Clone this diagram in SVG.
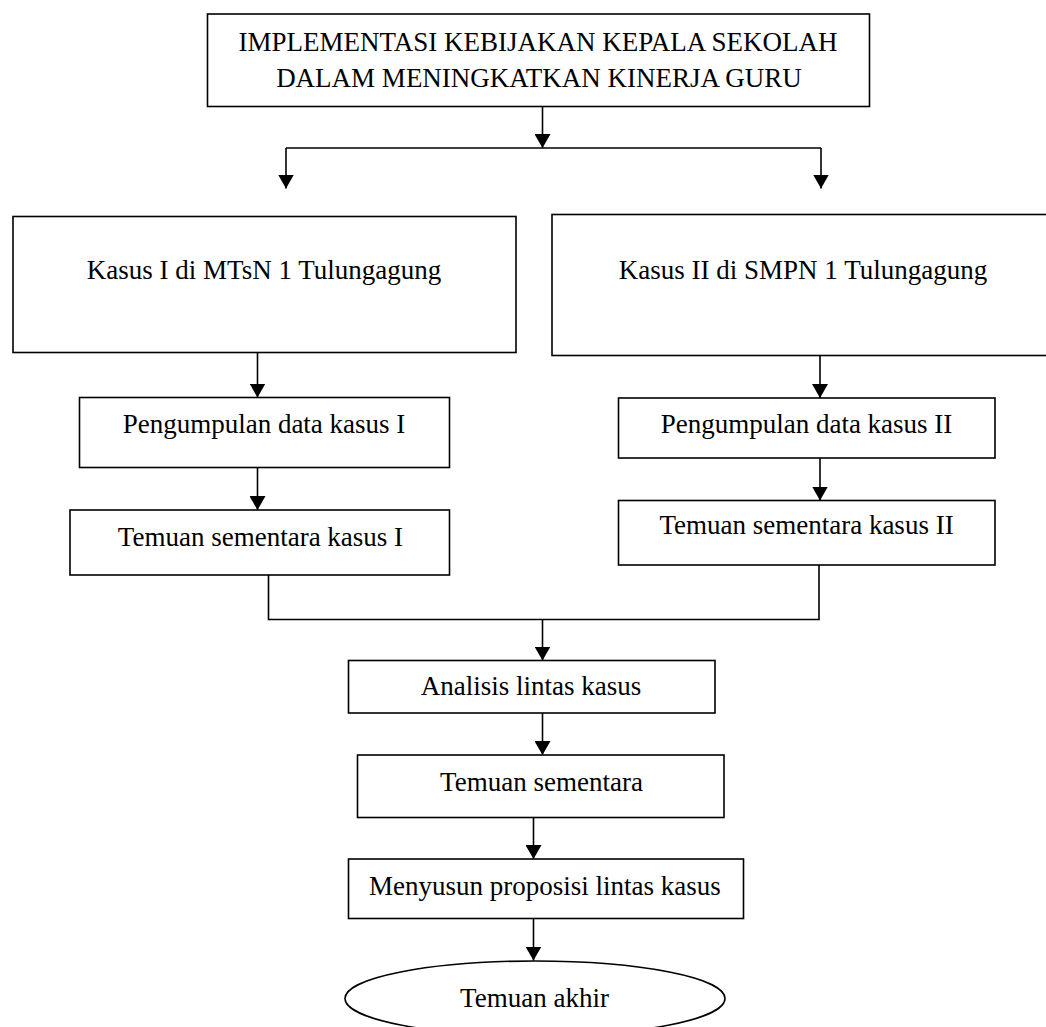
<svg xmlns="http://www.w3.org/2000/svg" width="1046" height="1027" viewBox="0 0 1046 1027">
<style>
.box{fill:#fff;stroke:#000;stroke-width:1.6}
.t{font-family:"Liberation Serif","Times New Roman",serif;font-size:27px;fill:#000;text-anchor:middle}
.c{fill:none;stroke:#000;stroke-width:1.6}
</style>
<defs>
<marker id="ah" markerUnits="userSpaceOnUse" markerWidth="15" markerHeight="16" refX="14" refY="8" orient="auto">
<path d="M0,0 L14,8 L0,16 z" fill="#000"/>
</marker>
</defs>
<rect width="1046" height="1027" fill="#fff"/>
<g id="connectors">
<line class="c" x1="542.5" y1="106.5" x2="542.5" y2="148" marker-end="url(#ah)"/>
<line class="c" x1="286" y1="148" x2="821" y2="148"/>
<line class="c" x1="286" y1="148" x2="286" y2="188.5" marker-end="url(#ah)"/>
<line class="c" x1="821" y1="148" x2="821" y2="188.5" marker-end="url(#ah)"/>
<line class="c" x1="257.5" y1="353" x2="257.5" y2="397.5" marker-end="url(#ah)"/>
<line class="c" x1="257.5" y1="467.5" x2="257.5" y2="510" marker-end="url(#ah)"/>
<line class="c" x1="820" y1="355.5" x2="820" y2="398" marker-end="url(#ah)"/>
<line class="c" x1="820" y1="458" x2="820" y2="500.5" marker-end="url(#ah)"/>
<polyline class="c" points="268.5,567 268.5,619.5 819,619.5 819,565"/>
<line class="c" x1="542.5" y1="619.5" x2="542.5" y2="660.5" marker-end="url(#ah)"/>
<line class="c" x1="542.5" y1="713" x2="542.5" y2="755" marker-end="url(#ah)"/>
<line class="c" x1="533.5" y1="817.5" x2="533.5" y2="859" marker-end="url(#ah)"/>
<line class="c" x1="533.5" y1="918.5" x2="533.5" y2="960.5" marker-end="url(#ah)"/>
</g>
<g id="n-top">
<rect class="box" x="207.5" y="14" width="662" height="92.5"/>
<text class="t" x="538" y="51">IMPLEMENTASI KEBIJAKAN KEPALA SEKOLAH</text>
<text class="t" x="539" y="87">DALAM MENINGKATKAN KINERJA GURU</text>
</g>
<g id="n-kasus1">
<rect class="box" x="13" y="216.5" width="503" height="136"/>
<text class="t" x="264" y="279">Kasus I di MTsN 1 Tulungagung</text>
</g>
<g id="n-kasus2">
<rect class="box" x="552" y="214.5" width="500" height="141"/>
<text class="t" x="803" y="279">Kasus II di SMPN 1 Tulungagung</text>
</g>
<g id="n-peng1">
<rect class="box" x="79.5" y="397.5" width="370" height="70"/>
<text class="t" x="264" y="433">Pengumpulan data kasus I</text>
</g>
<g id="n-tem1">
<rect class="box" x="70" y="510" width="379.5" height="65"/>
<text class="t" x="260.5" y="546">Temuan sementara kasus I</text>
</g>
<g id="n-peng2">
<rect class="box" x="618.5" y="398" width="376.5" height="60"/>
<text class="t" x="806.5" y="433">Pengumpulan data kasus II</text>
</g>
<g id="n-tem2">
<rect class="box" x="618.5" y="500.5" width="376.5" height="64.5"/>
<text class="t" x="806.5" y="534">Temuan sementara kasus II</text>
</g>
<g id="n-analisis">
<rect class="box" x="348.5" y="660.5" width="366.5" height="52.5"/>
<text class="t" x="531" y="695">Analisis lintas kasus</text>
</g>
<g id="n-temuan">
<rect class="box" x="357.5" y="755" width="366.5" height="62.5"/>
<text class="t" x="541.5" y="790.5">Temuan sementara</text>
</g>
<g id="n-menyusun">
<rect class="box" x="348.5" y="859" width="395" height="59.5"/>
<text class="t" x="545" y="895">Menyusun proposisi lintas kasus</text>
</g>
<g id="n-akhir">
<ellipse class="box" cx="535" cy="998.5" rx="190" ry="37.5"/>
<text class="t" x="534.5" y="1007">Temuan akhir</text>
</g>
</svg>
